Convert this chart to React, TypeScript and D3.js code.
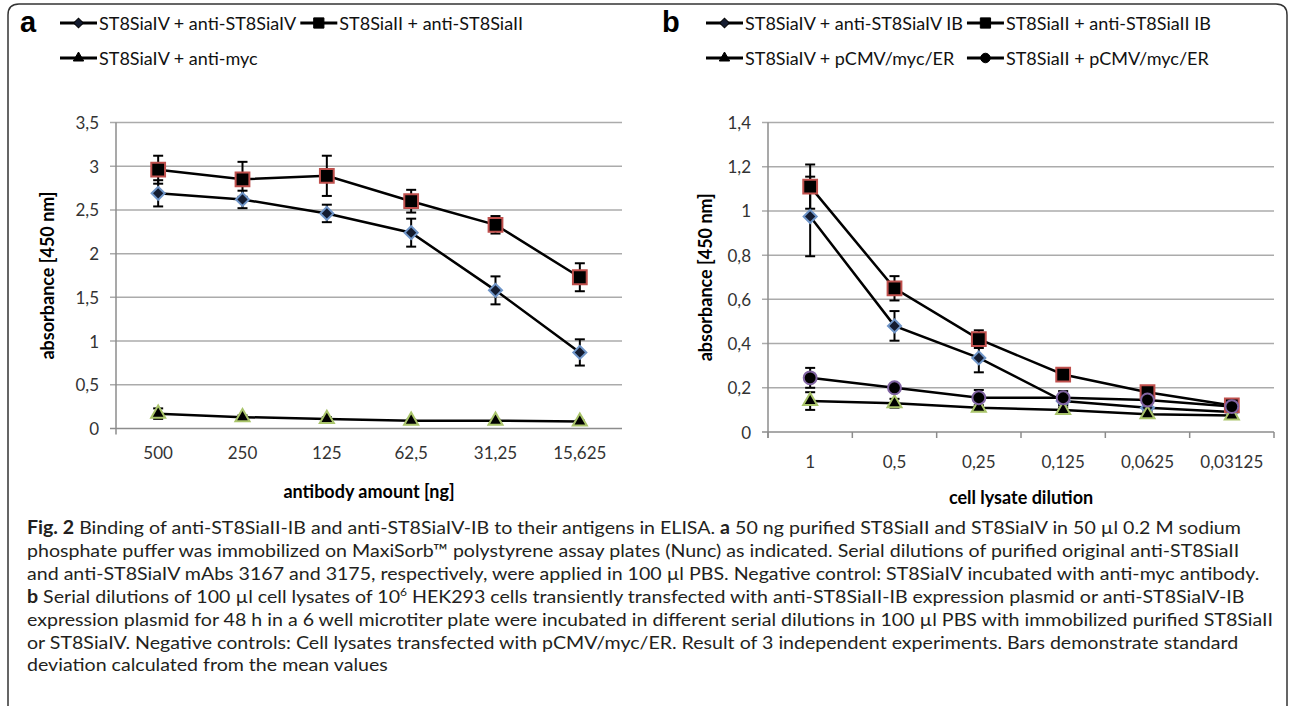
import React, { useEffect, useRef } from "react";
import * as d3 from "d3";

// panel a: antibody amount [ng]
const doseA = ["500", "250", "125", "62,5", "31,25", "15,625"];
const ivAntiIV = [2.69, 2.62, 2.46, 2.24, 1.58, 0.87];
const ivAntiIVErr = [0.15, 0.1, 0.1, 0.16, 0.16, 0.15];
const iiAntiII = [2.96, 2.85, 2.89, 2.6, 2.33, 1.73];
const iiAntiIIErr = [0.16, 0.2, 0.23, 0.13, 0.1, 0.16];
const ivAntiMyc = [0.17, 0.13, 0.11, 0.09, 0.09, 0.08];
const ivAntiMycErr = [0.06, 0.02, 0.02, 0.01, 0.01, 0.01];

// panel b: cell lysate dilution
const dilutionB = ["1", "0,5", "0,25", "0,125", "0,0625", "0,03125"];
const ivIB = [0.975, 0.48, 0.335, 0.14, 0.11, 0.09];
const ivIBErr = [0.18, 0.067, 0.065, 0.02, 0.01, 0.01];
const iiIB = [1.11, 0.65, 0.42, 0.26, 0.18, 0.12];
const iiIBErr = [0.1, 0.055, 0.04, 0.02, 0.015, 0.01];
const ivPcmv = [0.14, 0.13, 0.11, 0.1, 0.08, 0.075];
const ivPcmvErr = [0.04, 0.02, 0.01, 0.01, 0.01, 0.01];
const iiPcmv = [0.245, 0.2, 0.155, 0.155, 0.145, 0.115];
const iiPcmvErr = [0.045, 0.015, 0.035, 0.03, 0.02, 0.01];

const caption = [
  [["Fig. 2", "b"], [" Binding of anti-ST8SiaII-IB and anti-ST8SiaIV-IB to their antigens in ELISA. "], ["a", "b"], [" 50 ng purified ST8SiaII and ST8SiaIV in 50 µl 0.2 M sodium"]],
  [["phosphate puffer was immobilized on MaxiSorb™ polystyrene assay plates (Nunc) as indicated. Serial dilutions of purified original anti-ST8SiaII"]],
  [["and anti-ST8SiaIV mAbs 3167 and 3175, respectively, were applied in 100 µl PBS. Negative control: ST8SiaIV incubated with anti-myc antibody."]],
  [["b", "b"], [" Serial dilutions of 100 µl cell lysates of 10"], ["6", "sup"], [" HEK293 cells transiently transfected with anti-ST8SiaII-IB expression plasmid or anti-ST8SiaIV-IB"]],
  [["expression plasmid for 48 h in a 6 well microtiter plate were incubated in different serial dilutions in 100 µl PBS with immobilized purified ST8SiaII"]],
  [["or ST8SiaIV. Negative controls: Cell lysates transfected with pCMV/myc/ER. Result of 3 independent experiments. Bars demonstrate standard"]],
  [["deviation calculated from the mean values"]],
];

const markerStyle = {
  diamond: { stroke: "#6f95c8", fill: "#141c30" },
  square: { stroke: "#c0504d", fill: "#000" },
  triangle: { stroke: "#a9c46a", fill: "#000" },
  circle: { stroke: "#8064a2", fill: "#000" },
};

function marker(sel, type, cx, cy, scale) {
  const st = markerStyle[type];
  let path;
  let rot = 0;
  if (type === "diamond") { path = d3.symbol().type(d3.symbolSquare).size(85 * scale)(); rot = 45; }
  if (type === "square") path = d3.symbol().type(d3.symbolSquare).size(190 * scale)();
  if (type === "triangle") path = d3.symbol().type(d3.symbolTriangle).size(85 * scale)();
  if (type === "circle") path = d3.symbol().type(d3.symbolCircle).size(130 * scale)();
  sel.append("path")
    .attr("d", path)
    .attr("transform", `translate(${cx},${cy}) rotate(${rot})`)
    .attr("fill", st.fill)
    .attr("stroke", scale < 1 ? "#000" : st.stroke)
    .attr("stroke-width", scale < 1 ? 1 : 2);
}

const fmt = (d) => String(d).replace(".", ",");

function drawPanel(svg, p) {
  const g = svg.append("g");
  const x = d3.scaleBand().domain(p.cats).range(p.xRange);
  const y = d3.scaleLinear().domain(p.yDomain).range(p.yRange);
  const [x0, x1] = p.xRange;
  const y0 = y(0);
  const cx = (c) => x(c) + x.bandwidth() / 2;

  // gridlines, with small outside ticks on the left
  g.append("g").selectAll("line").data(y.ticks(7)).join("line")
    .attr("x1", x0 - 6).attr("x2", x1)
    .attr("y1", (d) => y(d)).attr("y2", (d) => y(d))
    .attr("stroke", (d) => (d === 0 ? "#8c8c8c" : "#ababab"))
    .attr("stroke-width", 1.5);
  g.append("line")
    .attr("x1", x0).attr("x2", x0)
    .attr("y1", y(p.yDomain[1])).attr("y2", y0 + 6)
    .attr("stroke", "#8c8c8c").attr("stroke-width", 1.5);
  if (p.xTicks) {
    g.append("g").selectAll("line").data(d3.range(p.cats.length + 1)).join("line")
      .attr("x1", (i) => x0 + i * x.step()).attr("x2", (i) => x0 + i * x.step())
      .attr("y1", y0).attr("y2", y0 + 6)
      .attr("stroke", "#8c8c8c").attr("stroke-width", 1.5);
  }

  // tick labels
  g.append("g").selectAll("text").data(y.ticks(7)).join("text")
    .attr("x", x0 - 17).attr("y", (d) => y(d))
    .attr("text-anchor", "end").attr("dominant-baseline", "central")
    .attr("font-family", "Lato").attr("font-size", 17).attr("fill", "#333")
    .text(fmt);
  g.append("g").selectAll("text").data(p.cats).join("text")
    .attr("x", cx).attr("y", p.xLabelY)
    .attr("text-anchor", "middle").attr("dominant-baseline", "central")
    .attr("font-family", "Lato").attr("font-size", 17).attr("fill", "#333")
    .text((d) => d);

  // axis titles
  g.append("text")
    .attr("transform", `translate(${p.yTitleX},${(y(p.yDomain[1]) + y0) / 2}) rotate(-90)`)
    .attr("text-anchor", "middle").attr("dominant-baseline", "central")
    .attr("font-family", "Lato").attr("font-weight", "bold").attr("font-size", 18)
    .text("absorbance [450 nm]");
  g.append("text")
    .attr("x", (x0 + x1) / 2).attr("y", p.xTitleY)
    .attr("text-anchor", "middle").attr("dominant-baseline", "central")
    .attr("font-family", "Lato").attr("font-weight", "bold").attr("font-size", 18)
    .text(p.xTitle);

  // series lines
  const line = d3.line().x((d, i) => cx(p.cats[i])).y((d) => y(d));
  p.series.forEach((s) => {
    g.append("path").datum(s.values)
      .attr("fill", "none").attr("stroke", "#000").attr("stroke-width", 2.5)
      .attr("d", line);
  });
  // error bars
  p.series.forEach((s) => {
    const eb = g.append("g").attr("stroke", "#000").attr("stroke-width", 2);
    s.values.forEach((v, i) => {
      const e = s.errors[i];
      const px = cx(p.cats[i]);
      eb.append("line").attr("x1", px).attr("x2", px).attr("y1", y(v - e)).attr("y2", y(v + e));
      eb.append("line").attr("x1", px - 5).attr("x2", px + 5).attr("y1", y(v - e)).attr("y2", y(v - e));
      eb.append("line").attr("x1", px - 5).attr("x2", px + 5).attr("y1", y(v + e)).attr("y2", y(v + e));
    });
  });
  // markers
  p.series.forEach((s) => {
    const mg = g.append("g");
    s.values.forEach((v, i) => marker(mg, s.marker, cx(p.cats[i]), y(v), 1));
  });

  // panel letter + legend (items laid out one after another, second column aligned)
  svg.append("text")
    .attr("x", p.letterX).attr("y", 32)
    .attr("font-family", "Liberation Sans, Arial").attr("font-weight", "bold").attr("font-size", 29)
    .text(p.letter);
  const items = [];
  p.legendRows.forEach((row, r) => {
    const ly = 23 + r * 35;
    row.forEach((s, k) => {
      const lg = svg.append("g");
      lg.append("line").attr("x1", 0).attr("x2", 37).attr("y1", ly).attr("y2", ly)
        .attr("stroke", "#000").attr("stroke-width", 3);
      marker(lg, s.marker, 18.5, ly, 0.55);
      const t = lg.append("text").attr("x", 39).attr("y", ly)
        .attr("dominant-baseline", "central")
        .attr("font-family", "Lato").attr("font-size", 18).attr("fill", "#111")
        .text(s.name);
      items.push({ lg, k, w: 39 + t.node().getComputedTextLength() });
    });
  });
  const col2 = p.legendX + d3.max(items.filter((d) => d.k === 0), (d) => d.w) + 4;
  items.forEach((d) => d.lg.attr("transform", `translate(${d.k === 0 ? p.legendX : col2},0)`));
}

export default function App() {
  const svgRef = useRef(null);

  useEffect(() => {
    const svg = d3.select(svgRef.current);
    svg.selectAll("*").remove();

    // outer frame
    svg.append("path")
      .attr("d", "M8,706 L8,15 Q8,4 19,4 L1276,4 Q1287,4 1287,15 L1287,706")
      .attr("fill", "none").attr("stroke", "#333").attr("stroke-width", 1.5);

    const sA = [
      { name: "ST8SiaIV + anti-ST8SiaIV", values: ivAntiIV, errors: ivAntiIVErr, marker: "diamond" },
      { name: "ST8SiaII + anti-ST8SiaII", values: iiAntiII, errors: iiAntiIIErr, marker: "square" },
      { name: "ST8SiaIV + anti-myc", values: ivAntiMyc, errors: ivAntiMycErr, marker: "triangle" },
    ];
    drawPanel(svg, {
      cats: doseA, series: sA, xRange: [116, 622], yDomain: [0, 3.5], yRange: [428.5, 122.5],
      xTicks: false, xLabelY: 452, xTitleY: 491, yTitleX: 47, xTitle: "antibody amount [ng]",
      letter: "a", letterX: 20, legendX: 60, legendRows: [[sA[0], sA[1]], [sA[2]]],
    });

    const sB = [
      { name: "ST8SiaIV + anti-ST8SiaIV IB", values: ivIB, errors: ivIBErr, marker: "diamond" },
      { name: "ST8SiaII + anti-ST8SiaII IB", values: iiIB, errors: iiIBErr, marker: "square" },
      { name: "ST8SiaIV + pCMV/myc/ER", values: ivPcmv, errors: ivPcmvErr, marker: "triangle" },
      { name: "ST8SiaII + pCMV/myc/ER", values: iiPcmv, errors: iiPcmvErr, marker: "circle" },
    ];
    drawPanel(svg, {
      cats: dilutionB, series: sB, xRange: [768, 1274], yDomain: [0, 1.4], yRange: [432, 122.5],
      xTicks: true, xLabelY: 461, xTitleY: 497, yTitleX: 705, xTitle: "cell lysate dilution",
      letter: "b", letterX: 662, legendX: 706, legendRows: [[sB[0], sB[1]], [sB[2], sB[3]]],
    });

    // caption: a condensed look, same squeeze for every line
    const cap = svg.append("g")
      .attr("font-family", "Lato").attr("font-size", 18).attr("fill", "#231f20");
    const texts = caption.map((segs, i) => {
      const t = cap.append("text").attr("x", 27).attr("y", 534 + i * 22.9);
      let prevSup = false;
      segs.forEach(([txt, kind]) => {
        const ts = t.append("tspan").text(txt);
        if (kind === "b") ts.attr("font-weight", "bold");
        if (kind === "sup") { ts.attr("font-size", 11).attr("dy", -7); prevSup = true; }
        else if (prevSup) { ts.attr("dy", 7); prevSup = false; }
      });
      return t;
    });
    const natural = texts.map((t) => t.node().getComputedTextLength());
    const k = (1273 - 27) / natural[4];
    texts.forEach((t, i) => {
      t.attr("textLength", natural[i] * k).attr("lengthAdjust", "spacingAndGlyphs");
    });
  }, []);

  return (
    <svg ref={svgRef} width={1290} height={706}
      style={{ position: "absolute", left: 0, top: 0, background: "#fff" }} />
  );
}
